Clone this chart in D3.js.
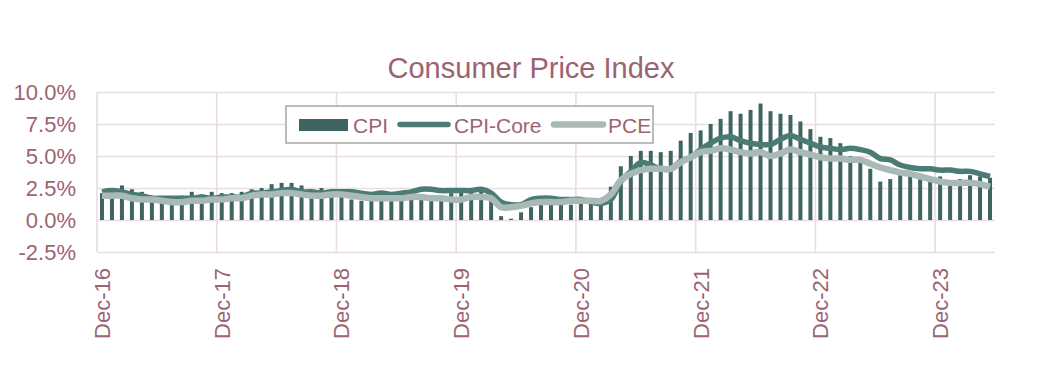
<!DOCTYPE html>
<html>
<head>
<meta charset="utf-8">
<script src="https://cdn.jsdelivr.net/npm/d3@7"></script>
<style>
  body { margin: 0; background: #fff; }
  svg { display: block; font-family: "Liberation Sans", Arial, sans-serif; }
</style>
</head>
<body>
<svg id="chart" width="1057" height="383"></svg>
<script>
// monthly, Dec-16 .. May-24 (year-on-year %)
var categories = d3.timeMonth.range(new Date(2016, 11, 1), new Date(2024, 5, 1)).map(d3.timeFormat("%b-%y"));

var cpi = [
  2.1,
  2.5, 2.7, 2.4, 2.2, 1.9, 1.6, 1.7, 1.9, 2.2, 2.0, 2.2, 2.1,
  2.1, 2.2, 2.4, 2.5, 2.8, 2.9, 2.9, 2.7, 2.3, 2.5, 2.2, 1.9,
  1.6, 1.5, 1.9, 2.0, 1.8, 1.6, 1.8, 1.7, 1.7, 1.8, 2.1, 2.3,
  2.5, 2.3, 1.5, 0.3, 0.1, 0.6, 1.0, 1.3, 1.4, 1.2, 1.2, 1.4,
  1.4, 1.7, 2.6, 4.2, 5.0, 5.4, 5.4, 5.3, 5.4, 6.2, 6.8, 7.0,
  7.5, 7.9, 8.5, 8.3, 8.6, 9.1, 8.5, 8.3, 8.2, 7.7, 7.1, 6.5,
  6.4, 6.0, 5.0, 4.9, 4.0, 3.0, 3.2, 3.7, 3.7, 3.2, 3.1, 3.4,
  3.1, 3.2, 3.5, 3.4, 3.3
];

var cpiCore = [
  2.2,
  2.3, 2.2, 2.0, 1.9, 1.7, 1.7, 1.7, 1.7, 1.7, 1.8, 1.7, 1.8,
  1.8, 1.8, 2.1, 2.1, 2.2, 2.3, 2.4, 2.2, 2.2, 2.1, 2.2, 2.2,
  2.2, 2.1, 2.0, 2.1, 2.0, 2.1, 2.2, 2.4, 2.4, 2.3, 2.3, 2.3,
  2.3, 2.4, 2.1, 1.4, 1.2, 1.2, 1.6, 1.7, 1.7, 1.6, 1.6, 1.6,
  1.4, 1.3, 1.6, 3.0, 3.8, 4.5, 4.3, 4.0, 4.0, 4.6, 4.9, 5.5,
  6.0, 6.4, 6.5, 6.2, 6.0, 5.9, 5.9, 6.3, 6.6, 6.3, 6.0, 5.7,
  5.6, 5.5, 5.6, 5.5, 5.3, 4.8, 4.7, 4.3, 4.1, 4.0, 4.0, 3.9,
  3.9, 3.8, 3.8, 3.6, 3.4
];

var pce = [
  1.9,
  1.9, 1.9, 1.7, 1.6, 1.6, 1.5, 1.4, 1.4, 1.5, 1.5, 1.6, 1.6,
  1.7, 1.7, 1.9, 2.0, 2.0, 2.1, 2.1, 2.0, 1.9, 1.9, 2.0, 2.0,
  1.9, 1.8, 1.7, 1.7, 1.7, 1.7, 1.8, 1.8, 1.7, 1.7, 1.6, 1.6,
  1.8, 1.8, 1.7, 1.0, 1.0, 1.1, 1.3, 1.4, 1.4, 1.4, 1.5, 1.5,
  1.5, 1.5, 2.0, 3.1, 3.6, 3.9, 4.0, 4.0, 4.0, 4.5, 4.9, 5.3,
  5.4, 5.6, 5.5, 5.3, 5.2, 5.3, 5.0, 5.2, 5.5, 5.3, 5.1, 4.9,
  4.8, 4.8, 4.7, 4.7, 4.4, 4.1, 3.9, 3.7, 3.6, 3.4, 3.2, 3.0,
  2.9, 2.9, 2.9, 2.8, 2.6
];

var xTickLabels = ["Dec-16", "Dec-17", "Dec-18", "Dec-19", "Dec-20", "Dec-21", "Dec-22", "Dec-23"];
var yTicks = [-2.5, 0, 2.5, 5, 7.5, 10];

var textColor = "#9b6470";
var gridColor = "#e8dde1";
var cpiColor = "#3f6563";
var coreColor = "#4b7b75";
var pceColor = "#a9b9b6";

var svg = d3.select("#chart");

var plotLeft = 97, plotRight = 995, plotTop = 92, plotBottom = 252;

var x = d3.scaleBand().domain(categories).range([plotLeft, plotRight]);
var y = d3.scaleLinear().domain([-2.5, 10]).range([plotBottom, plotTop]);
var bw = x.bandwidth();

// title
svg.append("text")
  .attr("x", 531)
  .attr("y", 78)
  .attr("text-anchor", "middle")
  .style("font-size", "29px")
  .style("fill", textColor)
  .text("Consumer Price Index");

// horizontal grid + y labels
var yAxis = svg.append("g")
  .attr("transform", "translate(" + plotLeft + ",0)")
  .call(d3.axisLeft(y).tickValues(yTicks).tickSize(-(plotRight - plotLeft)).tickPadding(21)
    .tickFormat(function (d) { return d.toFixed(1) + "%"; }));
yAxis.select(".domain").remove();
yAxis.selectAll("line").style("stroke", gridColor).style("stroke-width", 1.6);
yAxis.selectAll("text").style("font-size", "22px").style("fill", textColor);

// vertical grid at each December (left edge of the category)
svg.append("g").selectAll("line")
  .data(xTickLabels)
  .enter().append("line")
  .attr("x1", function (d) { return x(d); })
  .attr("x2", function (d) { return x(d); })
  .attr("y1", plotTop)
  .attr("y2", plotBottom)
  .style("stroke", gridColor)
  .style("stroke-width", 1.6);

// x labels
var xAxis = svg.append("g")
  .attr("transform", "translate(0," + plotBottom + ")")
  .call(d3.axisBottom(x).tickValues(xTickLabels).tickSize(0));
xAxis.select(".domain").remove();
xAxis.selectAll("text")
  .attr("transform", "rotate(-90)")
  .attr("x", -16)
  .attr("y", 0)
  .attr("dy", "0.36em")
  .attr("text-anchor", "end")
  .style("font-size", "22px")
  .style("fill", textColor);

// CPI bars
var barW = 4;
svg.append("g").selectAll("rect")
  .data(cpi)
  .enter().append("rect")
  .attr("x", function (d, i) { return x(categories[i]) + (bw - barW) / 2; })
  .attr("y", function (d) { return y(Math.max(d, 0)); })
  .attr("width", barW)
  .attr("height", function (d) { return Math.abs(y(d) - y(0)); })
  .style("fill", cpiColor);

var line = d3.line()
  .x(function (d, i) { return x(categories[i]) + bw / 2; })
  .y(function (d) { return y(d); })
  .curve(d3.curveCatmullRom.alpha(0.5));

svg.append("path")
  .datum(cpiCore)
  .attr("d", line)
  .style("fill", "none")
  .style("stroke", coreColor)
  .style("stroke-width", 5.5)
  .style("stroke-linejoin", "round");

svg.append("path")
  .datum(pce)
  .attr("d", line)
  .style("fill", "none")
  .style("stroke", pceColor)
  .style("stroke-width", 6.5)
  .style("stroke-linejoin", "round");

// legend
var legend = svg.append("g");
legend.append("rect")
  .attr("x", 286).attr("y", 106)
  .attr("width", 367).attr("height", 37)
  .style("fill", "#fff")
  .style("stroke", "#a6a6a6")
  .style("stroke-width", 1.5);

legend.append("rect")
  .attr("x", 299).attr("y", 119)
  .attr("width", 49).attr("height", 12)
  .style("fill", cpiColor);

legend.append("line")
  .attr("x1", 400).attr("x2", 448)
  .attr("y1", 124.5).attr("y2", 124.5)
  .style("stroke", coreColor).style("stroke-width", 5.5).style("stroke-linecap", "round");

legend.append("line")
  .attr("x1", 554).attr("x2", 603)
  .attr("y1", 124.5).attr("y2", 124.5)
  .style("stroke", pceColor).style("stroke-width", 6.5).style("stroke-linecap", "round");

var legendItems = [["CPI", 353], ["CPI-Core", 454], ["PCE", 608]];
legend.selectAll("text.item")
  .data(legendItems)
  .enter().append("text")
  .attr("class", "item")
  .attr("x", function (d) { return d[1]; })
  .attr("y", 132.5)
  .style("font-size", "21px")
  .style("fill", textColor)
  .text(function (d) { return d[0]; });
</script>
</body>
</html>
